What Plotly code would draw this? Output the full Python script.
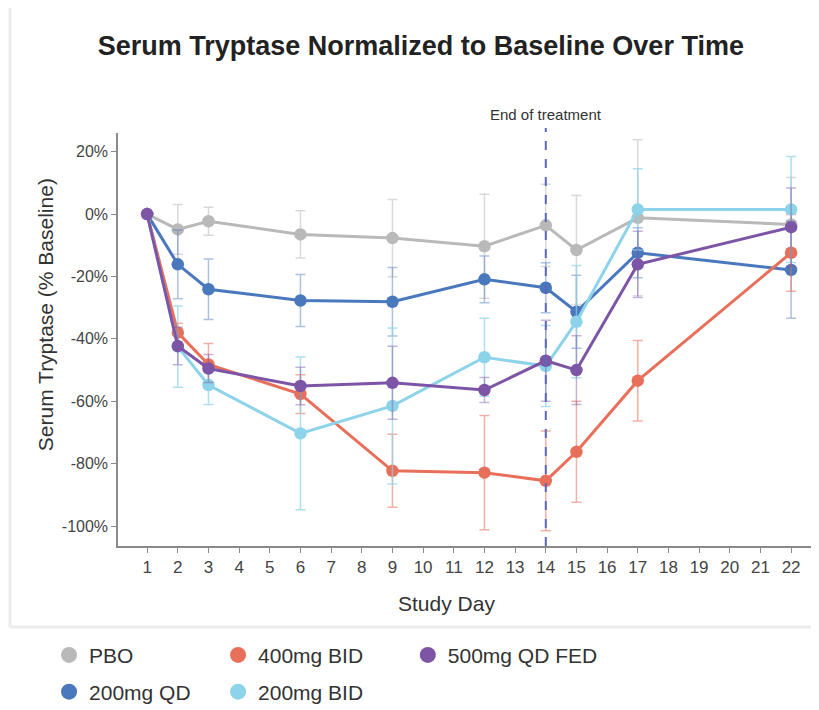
import plotly.graph_objects as go

days = [1, 2, 3, 6, 9, 12, 14, 15, 17, 22]

series_names = ["PBO", "200mg QD", "400mg BID", "200mg BID", "500mg QD FED"]
pbo = [0, -4.9, -2.3, -6.5, -7.7, -10.3, -3.6, -11.5, -1.2, -3.3]
pbo_err = [0, 8, 4.5, 7.6, 12.4, 16.7, 13.2, 17.5, 25, 15]
qd200 = [0, -16.1, -24.1, -27.7, -28.1, -20.9, -23.6, -31.3, -12.4, -17.9]
qd200_err = [0, 11, 9.7, 8.3, 11, 7.5, 8.0, 11.7, 8, 15.5]
bid400 = [0, -38, -48.2, -57.7, -82.3, -82.9, -85.5, -76.2, -53.4, -12.4]
bid400_err = [0, 3, 6.7, 6.2, 11.7, 18.3, 16, 16.2, 12.9, 12.3]
bid200 = [0, -42.5, -54.8, -70.3, -61.5, -45.9, -48.7, -34.5, 1.5, 1.5]
bid200_err = [0, 13, 6.2, 24.5, 25, 12.5, 13, 18, 13, 17]
qdfed500 = [0, -42.3, -49.5, -55.1, -54.1, -56.4, -47, -50, -16.1, -4.2]
qdfed500_err = [0, 6, 4.5, 6, 11.7, 4, 13, 11, 10.6, 12.6]

y_tickvals = [20, 0, -20, -40, -60, -80, -100]
y_ticktext = ["20%", "0%", "-20%", "-40%", "-60%", "-80%", "-100%"]
x_tickvals = list(range(1, 23))

end_day = 14

colors = {
    "PBO": "#b9b9b9",
    "200mg QD": "#4a78bd",
    "400mg BID": "#e8705a",
    "200mg BID": "#8dd3ea",
    "500mg QD FED": "#7c55a6",
}
err_colors = {
    "PBO": "rgba(185,185,185,0.55)",
    "200mg QD": "rgba(74,120,189,0.45)",
    "400mg BID": "rgba(232,112,90,0.55)",
    "200mg BID": "rgba(141,211,234,0.7)",
    "500mg QD FED": "rgba(124,85,166,0.45)",
}

data = {
    "PBO": (pbo, pbo_err),
    "200mg QD": (qd200, qd200_err),
    "400mg BID": (bid400, bid400_err),
    "200mg BID": (bid200, bid200_err),
    "500mg QD FED": (qdfed500, qdfed500_err),
}

fig = go.Figure()
for name in series_names:
    vals, errs = data[name]
    fig.add_trace(go.Scatter(
        x=days, y=vals, mode="lines+markers", name=name, showlegend=False,
        line=dict(color=colors[name], width=3),
        marker=dict(color=colors[name], size=12.5),
        error_y=dict(type="data", array=errs, visible=True, color=err_colors[name],
                     thickness=1.5, width=5),
    ))

# one single-item legend per entry: (legend id, series, x, y) in container fractions
legend_layout = [
    ("legend", "PBO", 0.0506, 0.078),
    ("legend2", "400mg BID", 0.259, 0.078),
    ("legend3", "500mg QD FED", 0.493, 0.078),
    ("legend4", "200mg QD", 0.0506, 0.0256),
    ("legend5", "200mg BID", 0.259, 0.0256),
]
legend_defs = {}
for lg, name, lx, ly in legend_layout:
    fig.add_trace(go.Scatter(
        x=[None], y=[None], mode="markers", name=name, legend=lg,
        marker=dict(color=colors[name], size=16),
    ))
    legend_defs[lg] = dict(orientation="h", xref="container", yref="container",
                           xanchor="left", yanchor="middle", x=lx, y=ly,
                           font=dict(size=21, color="#333333"),
                           bgcolor="rgba(0,0,0,0)", itemclick=False)

fig.add_shape(type="line", x0=end_day, x1=end_day, xref="x", yref="paper", y0=0, y1=1.012,
              line=dict(color="#5b68b8", width=2, dash="dash"))
fig.add_annotation(x=end_day, xref="x", y=1.046, yref="paper", text="End of treatment",
                   showarrow=False, font=dict(size=15, color="#333333"), yanchor="middle")

# axis titles
fig.add_annotation(x=-0.104, xref="paper", y=0.559, yref="paper", textangle=-90,
                   text="Serum Tryptase (% Baseline)", showarrow=False,
                   font=dict(size=21, color="#333333"), xanchor="center", yanchor="middle")
fig.add_annotation(x=0.469, xref="paper", y=-0.140, yref="paper",
                   text="Study Day", showarrow=False,
                   font=dict(size=21, color="#333333"), xanchor="center", yanchor="middle")

# card edges (shadow)
fig.add_shape(type="line", xref="paper", yref="paper", x0=-0.154, x1=-0.154, y0=-0.196, y1=1.4,
              line=dict(color="#ececec", width=3))
fig.add_shape(type="line", xref="paper", yref="paper", x0=-0.154, x1=1.05, y0=-0.196, y1=-0.196,
              line=dict(color="#ececec", width=3))

fig.update_layout(
    width=811, height=702,
    margin=dict(l=110, r=0, t=125, b=164),
    paper_bgcolor="white", plot_bgcolor="white",
    font=dict(family="Liberation Sans, Arial, sans-serif", color="#333333"),
    title=dict(text="<b>Serum Tryptase Normalized to Baseline Over Time</b>",
               x=0.509, xanchor="center", y=0.947, yanchor="middle",
               font=dict(size=27, color="#222222")),
    xaxis=dict(range=[0.05, 22.91], tickvals=x_tickvals, showgrid=False, zeroline=False,
               showline=True, linecolor="#8a8a8a", linewidth=1.5, ticks="outside",
               ticklen=5, tickcolor="#8a8a8a", tickfont=dict(size=17, color="#444444")),
    yaxis=dict(range=[-106.4, 26], tickvals=y_tickvals, ticktext=y_ticktext, showgrid=False,
               zeroline=False, showline=True, linecolor="#8a8a8a", linewidth=1.5,
               ticks="outside", ticklen=5, tickcolor="#8a8a8a",
               tickfont=dict(size=16, color="#444444")),
    **legend_defs,
)

fig.write_html("out.html")
